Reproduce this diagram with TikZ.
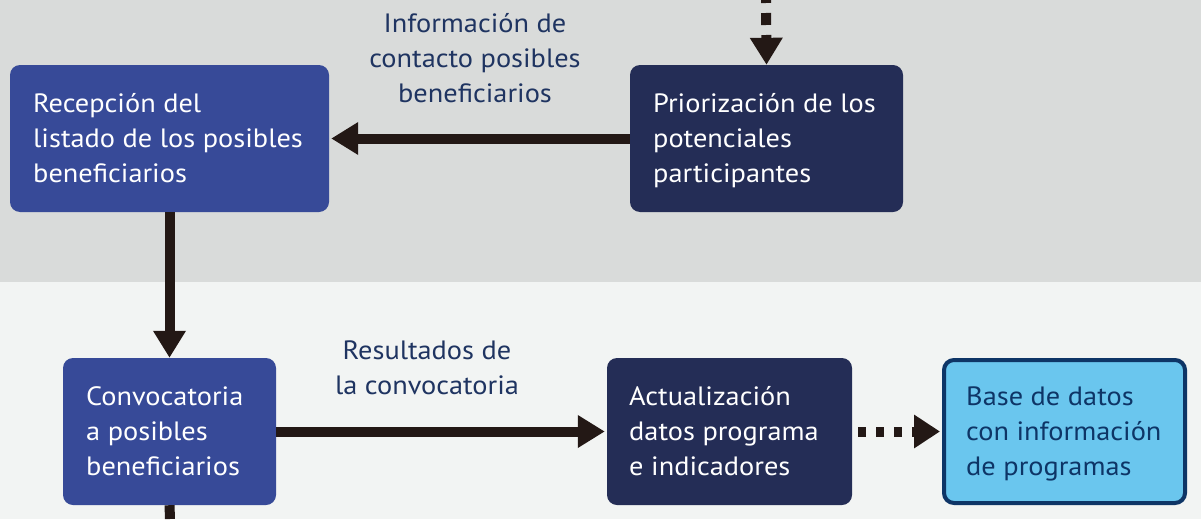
\documentclass[tikz,border=0pt]{standalone}
\usepackage{fontspec}
\setmainfont{PT Sans}[FakeStretch=1.07]
\usetikzlibrary{arrows.meta}
\definecolor{topbg}{HTML}{D9DBDA}
\definecolor{botbg}{HTML}{F2F4F3}
\definecolor{midblue}{HTML}{374A98}
\definecolor{darkblue}{HTML}{242D56}
\definecolor{lightblue}{HTML}{6AC6EE}
\definecolor{navy}{HTML}{0E3566}
\definecolor{labelblue}{HTML}{1F3461}
\definecolor{arrowc}{HTML}{231815}
\begin{document}
\begin{tikzpicture}[x=1pt,y=-1pt,
  boxtext/.style={font=\fontsize{26.5}{35}\selectfont, align=left, inner sep=0pt},
  procbox/.style={rounded corners=10pt, inner sep=0pt},
  flow/.style={draw=arrowc, line width=10pt, -{Triangle[length=27pt,width=31pt]}},
  lbl/.style={font=\fontsize{26.5}{35}\selectfont, text=labelblue, align=center, inner sep=0pt}]
\useasboundingbox (0,0) rectangle (1201,519);
\fill[topbg] (0,0) rectangle (1201,282);
\fill[botbg] (0,282) rectangle (1201,519);
% boxes
\node[procbox, fill=midblue, minimum width=319pt, minimum height=147pt] (rec) at (169.5,138.5) {};
\node[procbox, fill=darkblue, minimum width=273pt, minimum height=147pt] (pri) at (766.5,138.5) {};
\node[procbox, fill=midblue, minimum width=213pt, minimum height=147pt] (con) at (169.5,431.5) {};
\node[procbox, fill=darkblue, minimum width=245pt, minimum height=147pt] (act) at (729.5,431.5) {};
\node[procbox, fill=lightblue, draw=navy, line width=4pt, minimum width=241pt, minimum height=143pt] (bas) at (1064.5,431.5) {};
% texts
\node[boxtext, text=white, anchor=west] (trec) at (33,138) {Recepción del\\listado de los posibles\\beneficiarios};
\node[boxtext, text=white, anchor=west] (tpri) at (653,141) {Priorización de los\\potenciales\\participantes};
\node[boxtext, text=white, anchor=west] (tcon) at (86,431) {Convocatoria\\a posibles\\beneficiarios};
\node[boxtext, text=white, anchor=west] (tact) at (629,431) {Actualización\\datos programa\\e indicadores};
\node[boxtext, text=navy, anchor=west] (tbas) at (966,434) {Base de datos\\con información\\de programas};
% labels
\node[lbl] (l1) at (475,58) {Información de\\contacto posibles\\beneficiarios};
\node[lbl] (l2) at (427,368) {Resultados de\\la convocatoria};
% connectors
\coordinate (topin) at (766,0);
\coordinate (botout) at (170,519);
\draw[flow, dash pattern=on 12pt off 10pt, dash phase=9pt] (topin) -- (pri.north);
\draw[flow] (pri.west) -- ([xshift=2pt]rec.east);
\draw[flow] (rec.south) -- (con.north);
\draw[flow] (con.east) -- ([xshift=-2pt]act.west);
\draw[flow, dash pattern=on 8pt off 10pt, -{Triangle[length=26pt,width=32pt]}] ([xshift=6pt]act.east) -- ([xshift=-2pt]bas.west);
\draw[draw=arrowc, line width=10pt] (con.south) -- (botout);
\end{tikzpicture}
\end{document}
